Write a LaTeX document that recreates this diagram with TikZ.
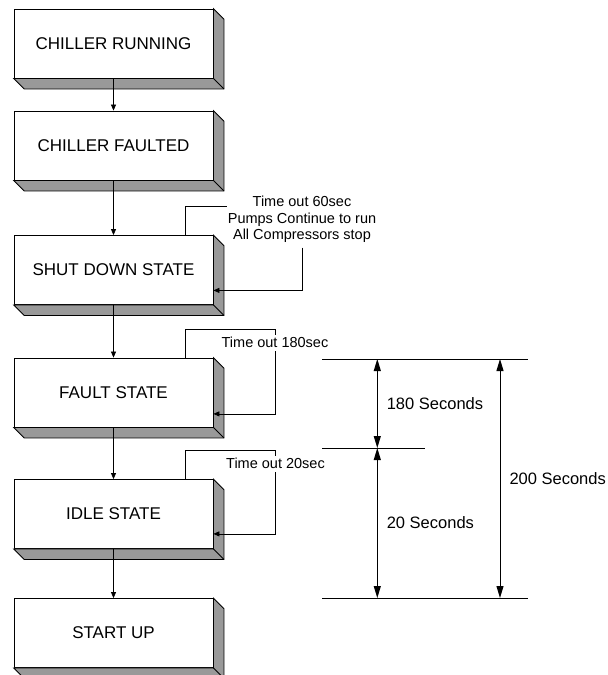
\documentclass[tikz,border=0pt]{standalone}
\usepackage{fontspec}
\setmainfont{Liberation Sans}
\usepackage{tikz}
\usetikzlibrary{arrows.meta,positioning,calc}

\tikzset{
  state/.style={draw,fill=white,line width=0.8pt,minimum width=199pt,minimum height=69pt,inner sep=0pt,font=\fontsize{17}{20}\selectfont},
  slab/.style={draw,fill=black!40,line width=0.8pt},
  flow/.style={line width=0.7pt,-{Triangle[length=6pt,width=5pt]}},
  loopline/.style={line width=0.7pt},
  note/.style={inner sep=1pt,text height=10.5pt,text depth=3pt,font=\fontsize{14.5}{16.3}\selectfont},
  dim/.style={line width=1pt,{Triangle[length=12pt,width=7pt]}-{Triangle[length=12pt,width=7pt]}},
  dimlabel/.style={inner sep=1pt,font=\fontsize{16.5}{19}\selectfont}
}

\begin{document}
\begin{tikzpicture}[x=1pt,y=-1pt]
  \useasboundingbox (0,0) rectangle (608,675);

  % states
  \node[state] (run) at (113.5,43.5) {CHILLER RUNNING};
  \node[state] (flt) at (113.5,145.5) {CHILLER FAULTED};
  \node[state] (sd) at (113.5,270) {SHUT DOWN STATE};
  \node[state] (fs) at (113.5,392.5) {FAULT STATE};
  \node[state] (idle) at (113.5,514) {IDLE STATE};
  \node[state] (up) at (113.5,633) {START UP};

  % 3d edges
  \foreach \n in {run,flt,sd,fs,idle,up} {
    \filldraw[slab] (\n.north east) -- ++(10.5,10.5) -- ($(\n.south east)+(10.5,10.5)$)
      -- ($(\n.south west)+(10.5,10.5)$) -- (\n.south west) -- (\n.south east) -- cycle;
    \draw[line width=0.8pt] (\n.south east) -- ++(10.5,10.5);
  }

  \draw[flow] (run.south) -- (flt.north);
  \draw[flow] (flt.south) -- (sd.north);
  \draw[flow] (sd.south) -- (fs.north);
  \draw[flow] (fs.south) -- (idle.north);
  \draw[flow] (idle.south) -- (up.north);

  % time outs
  \node[align=center,inner sep=1pt,font=\fontsize{14.5}{16.3}\selectfont] (t60) at (302,219.3)
    {Time out 60sec\\Pumps Continue to run\\All Compressors stop};
  \draw[loopline] ([xshift=-28pt]sd.north east) |- ([yshift=12.5pt]t60.west);
  \draw[flow] ([yshift=-4pt]t60.south) |- ([yshift=14.5pt]sd.south east);

  \node[note] (t180) at (275,343.25) {Time out 180sec};
  \draw[loopline] ([xshift=-28pt]fs.north east) |- ([yshift=5.5pt]t180.north) -- (t180.north);
  \draw[flow] (t180.south) |- ([yshift=13.5pt]fs.south east);

  \node[note] (t20) at (275.5,464.25) {Time out 20sec};
  \draw[loopline] ([xshift=-28pt]idle.north east) |- ([yshift=5.5pt]t20.north) -- (t20.north);
  \draw[flow] (t20.south) |- ([yshift=15pt]idle.south east);

  % timing
  \coordinate (top0) at (322,359);
  \coordinate (top1) at (528,359);
  \coordinate (mid0) at (322,448);
  \coordinate (mid1) at (425,448);
  \coordinate (bot0) at (322,598);
  \coordinate (bot1) at (528,598);
  \coordinate (inner) at (377.3,0);
  \coordinate (outer) at (500,0);

  \draw[line width=1pt] (top0) -- (top1);
  \draw[line width=1pt] (mid0) -- (mid1);
  \draw[line width=1pt] (bot0) -- (bot1);

  \draw[dim] (top0 -| inner) -- node[dimlabel,right=8pt] (s180) {180 Seconds} (mid0 -| inner);
  \draw[dim] (mid0 -| inner) -- node[dimlabel,right=8pt] (s20) {20 Seconds} (bot0 -| inner);
  \draw[dim] (top0 -| outer) -- node[dimlabel,right=8pt] (s200) {200 Seconds} (bot0 -| outer);
\end{tikzpicture}
\end{document}
